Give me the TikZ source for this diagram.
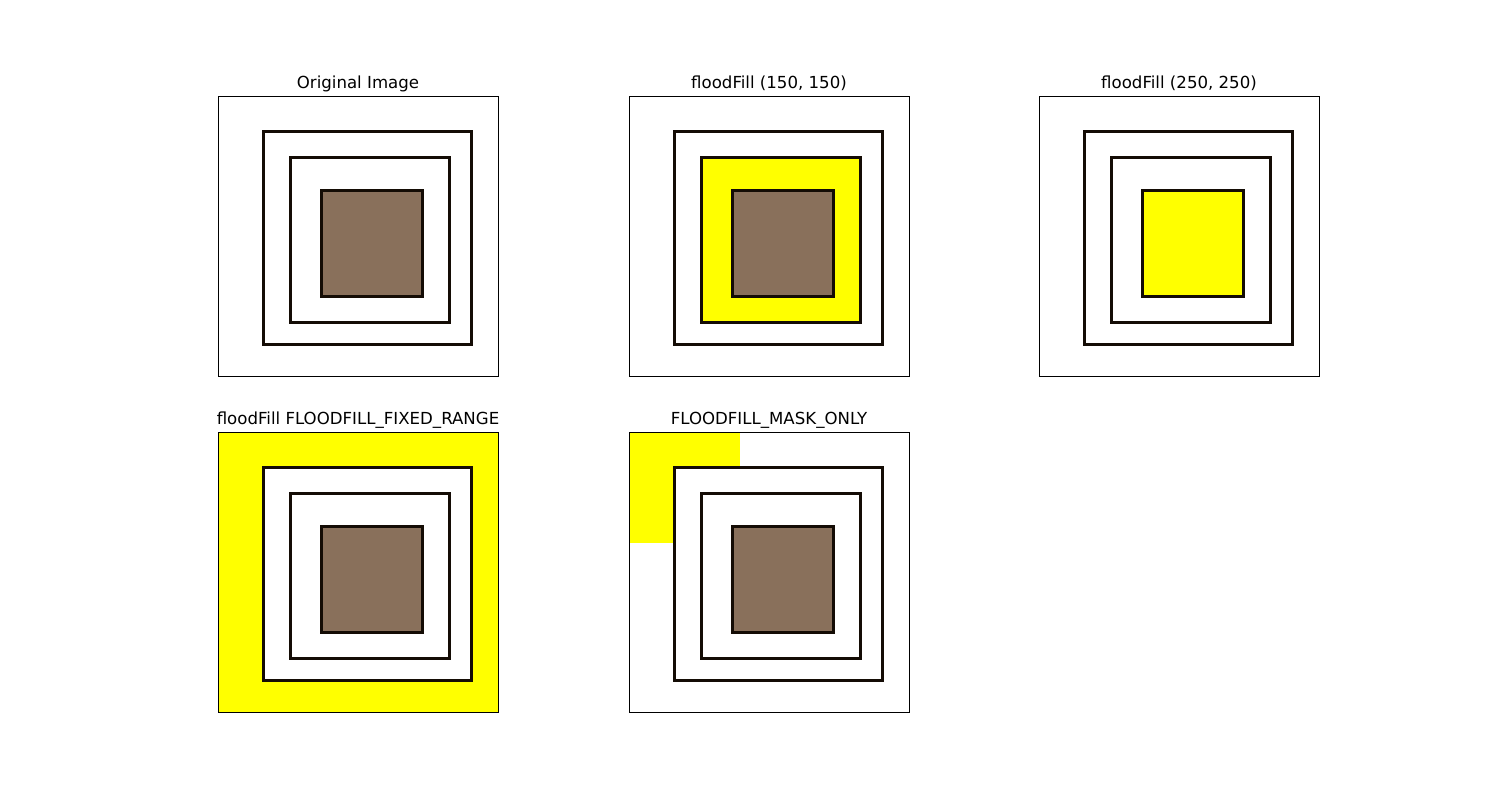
\documentclass[tikz,border=0pt]{standalone}
\usepackage{fontspec}
\setmainfont{DejaVu Sans}
\definecolor{brownfill}{RGB}{137,112,91}
\definecolor{edge}{RGB}{20,12,5}
\definecolor{pureyellow}{RGB}{255,255,0}
\begin{document}
\begin{tikzpicture}[x=0.5pt,y=-0.5pt,
  frame/.style={draw=black,line width=0.5pt},
  sq/.style={draw=edge,line width=1.5pt},
  ttl/.style={font=\fontsize{8.3}{10}\selectfont,anchor=base}]
\useasboundingbox (0,0) rectangle (1500,800);
% panel macro: #1,#2 offsets
\newcommand{\squares}[3]{%
  \begin{scope}[shift={(#1,#2)}]
    #3
    \draw[sq] (45,35) rectangle (253,248);
    \draw[sq] (72,61) rectangle (231,226);
    \draw[frame] (0,0) rectangle (280,280);
  \end{scope}}
% Panel 1
\squares{218}{96}{\draw[sq,fill=brownfill] (103,94) rectangle (204,200);}
\node[ttl] (t1) at (358,88) {Original Image};
% Panel 2
\squares{629}{96}{\fill[pureyellow] (72,61) rectangle (231,226);
  \draw[sq,fill=brownfill] (103,94) rectangle (204,200);}
\node[ttl] (t2) at (769,88) {floodFill (150, 150)};
% Panel 3
\squares{1039}{96}{\draw[sq,fill=pureyellow] (103,94) rectangle (204,200);}
\node[ttl] (t3) at (1179,88) {floodFill (250, 250)};
% Panel 4
\squares{218}{432}{\fill[pureyellow] (0,0) rectangle (280,280);
  \fill[white] (45,35) rectangle (253,248);
  \draw[sq,fill=brownfill] (103,94) rectangle (204,200);}
\node[ttl] (t4) at (358,424) {floodFill FLOODFILL\_FIXED\_RANGE};
% Panel 5
\squares{629}{432}{\fill[pureyellow] (0,0) rectangle (111,111);
  \fill[white] (45,35) rectangle (253,248);
  \draw[sq,fill=brownfill] (103,94) rectangle (204,200);}
\node[ttl] (t5) at (769,424) {FLOODFILL\_MASK\_ONLY};
\end{tikzpicture}
\end{document}
